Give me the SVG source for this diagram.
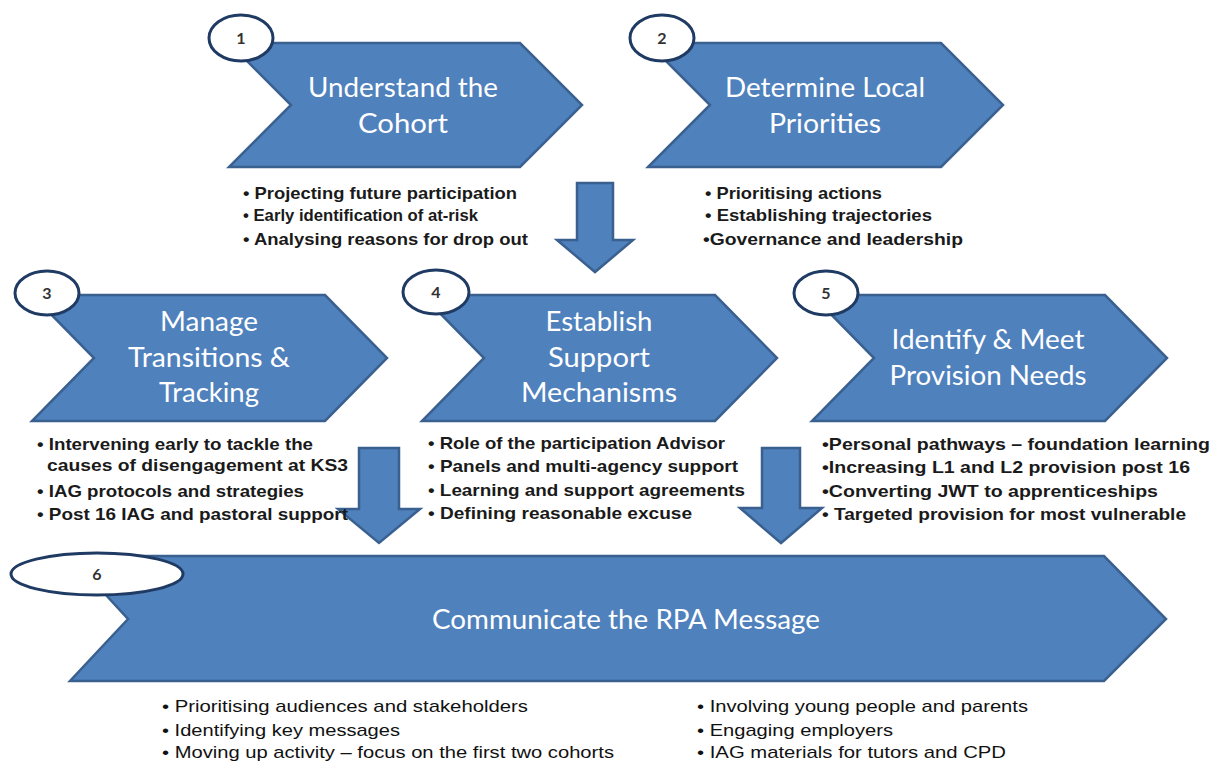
<svg xmlns="http://www.w3.org/2000/svg" width="1217" height="762" viewBox="0 0 1217 762">
<style>
.chev{fill:#4F81BD;stroke:#3A6090;stroke-width:2.5;stroke-linejoin:miter}
.arr{fill:#4F81BD;stroke:#3A6090;stroke-width:2.5;stroke-linejoin:miter}
.num{fill:#fff;stroke:#1F3B63;stroke-width:3}
.nt{font-family:Lato,"Open Sans","Liberation Sans",sans-serif;font-weight:bold;font-size:16px;fill:#333;text-anchor:middle}
.tt{font-family:Lato,"Open Sans","Liberation Sans",sans-serif;font-size:27px;fill:#fff;text-anchor:middle}
.bt{font-family:"Liberation Sans",Arial,sans-serif;font-weight:bold;font-size:17px;fill:#1a1a1a}
.bt2{font-family:"Liberation Sans",Arial,sans-serif;font-size:17px;fill:#111}
</style>
<rect width="1217" height="762" fill="#fff"/>
<g id="connectors">
<polygon class="arr" points="577,183 613,183 613,240 633,240 595,272 557,240 577,240"/>
<polygon class="arr" points="359,448 399,448 399,509 420,509 379,543 338,509 359,509"/>
<polygon class="arr" points="762,448 800,448 800,508 822,508 781,543 740,508 762,508"/>
</g>
<g id="node1">
<polygon class="chev" points="229,43 520,43 582,105 520,167 229,167 291,105"/>
<ellipse class="num" cx="241" cy="38" rx="32" ry="23"/>
<text class="nt" x="241" y="44">1</text>
<text class="tt" x="403" y="97" textLength="190" lengthAdjust="spacingAndGlyphs">Understand the</text>
<text class="tt" x="403" y="133" textLength="90" lengthAdjust="spacingAndGlyphs">Cohort</text>
<text class="bt" x="243" y="199" textLength="274" lengthAdjust="spacingAndGlyphs">• Projecting future participation</text>
<text class="bt" x="243" y="221" textLength="235" lengthAdjust="spacingAndGlyphs">• Early identification of at-risk</text>
<text class="bt" x="243" y="245" textLength="285" lengthAdjust="spacingAndGlyphs">• Analysing reasons for drop out</text>
</g>
<g id="node2">
<polygon class="chev" points="648,43 941,43 1003,105 941,167 648,167 710,105"/>
<ellipse class="num" cx="662" cy="38" rx="32" ry="23"/>
<text class="nt" x="662" y="44">2</text>
<text class="tt" x="825" y="97" textLength="200" lengthAdjust="spacingAndGlyphs">Determine Local</text>
<text class="tt" x="825" y="133" textLength="112" lengthAdjust="spacingAndGlyphs">Priorities</text>
<text class="bt" x="705" y="199" textLength="177" lengthAdjust="spacingAndGlyphs">• Prioritising actions</text>
<text class="bt" x="705" y="221" textLength="227" lengthAdjust="spacingAndGlyphs">• Establishing trajectories</text>
<text class="bt" x="703" y="245" textLength="260" lengthAdjust="spacingAndGlyphs">•Governance and leadership</text>
</g>
<g id="node3">
<polygon class="chev" points="32,295 325,295 387,358 325,421 32,421 94,358"/>
<ellipse class="num" cx="47" cy="293" rx="32" ry="22"/>
<text class="nt" x="47" y="299">3</text>
<text class="tt" x="209" y="331" textLength="98" lengthAdjust="spacingAndGlyphs">Manage</text>
<text class="tt" x="209" y="367" textLength="162" lengthAdjust="spacingAndGlyphs">Transitions &amp;</text>
<text class="tt" x="209" y="402" textLength="100" lengthAdjust="spacingAndGlyphs">Tracking</text>
<text class="bt" x="37" y="450" textLength="276" lengthAdjust="spacingAndGlyphs">• Intervening early to tackle the</text>
<text class="bt" x="47" y="471" textLength="301" lengthAdjust="spacingAndGlyphs">causes of disengagement at KS3</text>
<text class="bt" x="37" y="497" textLength="267" lengthAdjust="spacingAndGlyphs">• IAG protocols and strategies</text>
<text class="bt" x="37" y="520" textLength="311" lengthAdjust="spacingAndGlyphs">• Post 16 IAG and pastoral support</text>
</g>
<g id="node4">
<polygon class="chev" points="422,295 715,295 777,358 715,421 422,421 484,358"/>
<ellipse class="num" cx="436" cy="292" rx="33" ry="22"/>
<text class="nt" x="436" y="298">4</text>
<text class="tt" x="599" y="331" textLength="107" lengthAdjust="spacingAndGlyphs">Establish</text>
<text class="tt" x="599" y="367" textLength="102" lengthAdjust="spacingAndGlyphs">Support</text>
<text class="tt" x="599" y="402" textLength="156" lengthAdjust="spacingAndGlyphs">Mechanisms</text>
<text class="bt" x="428" y="449" textLength="297" lengthAdjust="spacingAndGlyphs">• Role of the participation Advisor</text>
<text class="bt" x="428" y="472" textLength="310" lengthAdjust="spacingAndGlyphs">• Panels and multi-agency support</text>
<text class="bt" x="428" y="496" textLength="317" lengthAdjust="spacingAndGlyphs">• Learning and support agreements</text>
<text class="bt" x="428" y="519" textLength="264" lengthAdjust="spacingAndGlyphs">• Defining reasonable excuse</text>
</g>
<g id="node5">
<polygon class="chev" points="812,295 1105,295 1167,358 1105,421 812,421 874,358"/>
<ellipse class="num" cx="826" cy="293" rx="32" ry="22"/>
<text class="nt" x="826" y="299">5</text>
<text class="tt" x="988" y="349" textLength="193" lengthAdjust="spacingAndGlyphs">Identify &amp; Meet</text>
<text class="tt" x="988" y="385" textLength="197" lengthAdjust="spacingAndGlyphs">Provision Needs</text>
<text class="bt" x="822" y="450" textLength="388" lengthAdjust="spacingAndGlyphs">•Personal pathways – foundation learning</text>
<text class="bt" x="822" y="473" textLength="368" lengthAdjust="spacingAndGlyphs">•Increasing L1 and L2 provision post 16</text>
<text class="bt" x="822" y="497" textLength="336" lengthAdjust="spacingAndGlyphs">•Converting JWT to apprenticeships</text>
<text class="bt" x="822" y="520" textLength="364" lengthAdjust="spacingAndGlyphs">• Targeted provision for most vulnerable</text>
</g>
<g id="node6">
<polygon class="chev" points="70,556 1104,556 1166,619 1104,681 70,681 128,619"/>
<ellipse class="num" cx="97" cy="574" rx="86" ry="21"/>
<text class="nt" x="97" y="580">6</text>
<text class="tt" x="626" y="629" textLength="388" lengthAdjust="spacingAndGlyphs">Communicate the RPA Message</text>
<text class="bt2" x="162" y="712" textLength="366" lengthAdjust="spacingAndGlyphs">• Prioritising audiences and stakeholders</text>
<text class="bt2" x="162" y="736" textLength="238" lengthAdjust="spacingAndGlyphs">• Identifying key messages</text>
<text class="bt2" x="162" y="758" textLength="452" lengthAdjust="spacingAndGlyphs">• Moving up activity – focus on the first two cohorts</text>
<text class="bt2" x="697" y="712" textLength="331" lengthAdjust="spacingAndGlyphs">• Involving young people and parents</text>
<text class="bt2" x="697" y="736" textLength="196" lengthAdjust="spacingAndGlyphs">• Engaging employers</text>
<text class="bt2" x="697" y="758" textLength="309" lengthAdjust="spacingAndGlyphs">• IAG materials for tutors and CPD</text>
</g>
</svg>
